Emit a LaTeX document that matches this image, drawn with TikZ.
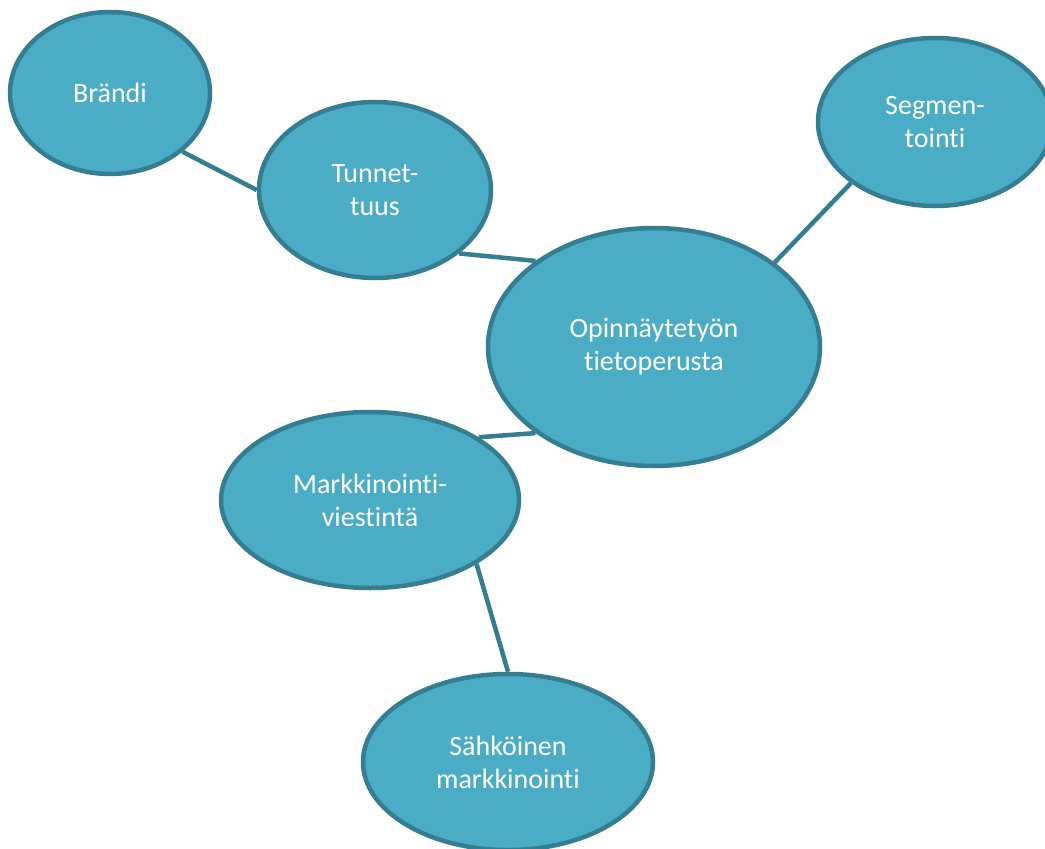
\documentclass[tikz,border=0pt]{standalone}
\usepackage{fontspec}
\setmainfont[RawFeature={-liga}]{Carlito}
\usetikzlibrary{shapes.geometric}
\definecolor{bubblefill}{HTML}{4BACC6}
\definecolor{bubbleline}{HTML}{357D91}
\tikzset{
  bubble/.style={ellipse, fill=bubblefill, draw=bubbleline, line width=4.5pt,
    inner sep=0pt, text=white, align=center, font=\fontsize{28}{33}\selectfont},
  link/.style={draw=bubbleline, line width=4.5pt}
}
\begin{document}
\begin{tikzpicture}[x=1pt,y=-1pt]
\useasboundingbox (0,0) rectangle (1045,849);
\clip (0,0) rectangle (1045,849);
\node[bubble, minimum width=200pt, minimum height=162pt] (brandi) at (110,93) {Brändi};
\node[bubble, minimum width=232pt, minimum height=176pt] (tunn) at (375,190) {Tunnet-\\tuus};
\node[bubble, minimum width=234pt, minimum height=168pt] (segm) at (935,122) {Segmen-\\tointi};
\node[bubble, minimum width=332pt, minimum height=238pt] (opin) at (654,347) {Opinnäytetyön\\tietoperusta};
\node[bubble, minimum width=298pt, minimum height=176pt] (mark) at (370,500) {Markkinointi-\\viestintä};
\node[bubble, minimum width=290pt, minimum height=176pt] (sahk) at (508,762) {Sähköinen\\markkinointi};
\draw[link] (brandi.-39) -- (tunn.180);
\draw[link] (tunn.-37) -- (opin.144);
\draw[link] (segm.216) -- (opin.35);
\draw[link] (mark.30) -- (opin.216);
\draw[link] (mark.-31) -- (sahk.90);
\end{tikzpicture}
\end{document}
